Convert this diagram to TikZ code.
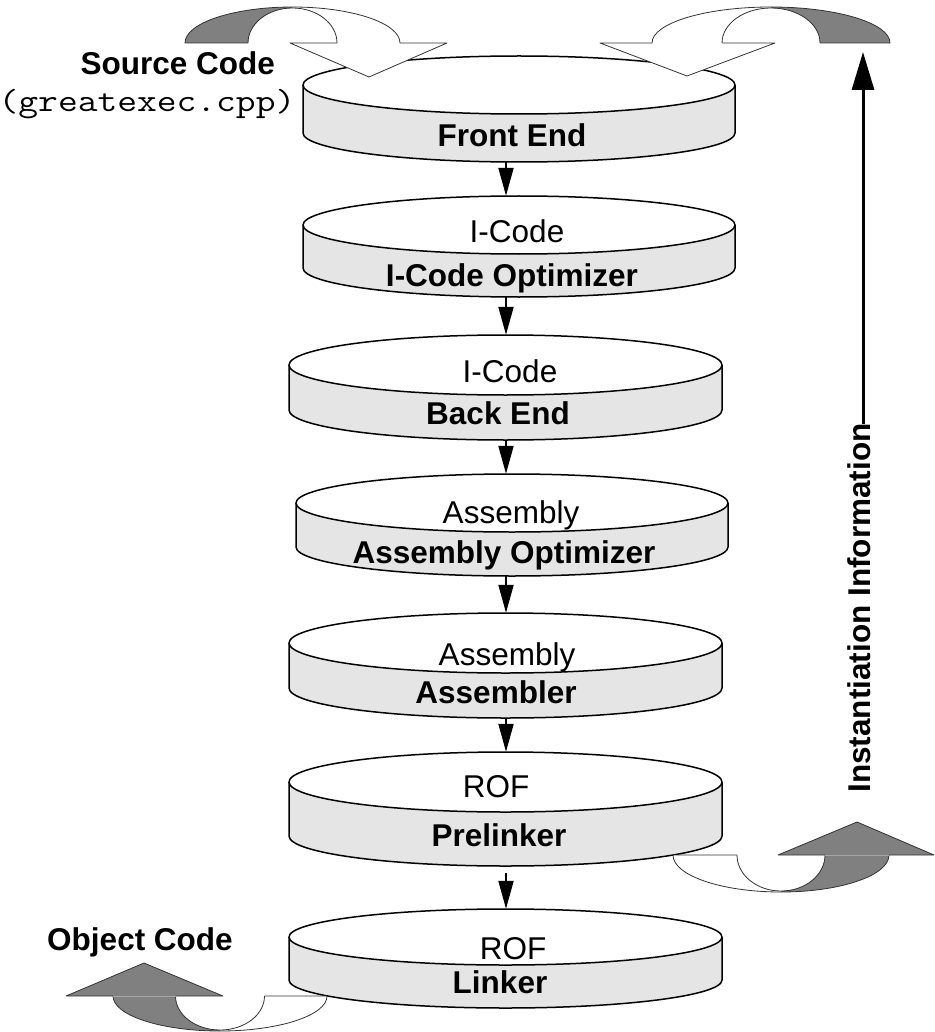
\documentclass[tikz,border=0pt]{standalone}
\usepackage{fontspec}
\setmainfont{Liberation Sans}
\setmonofont[FakeStretch=1.2]{Latin Modern Mono}
\usetikzlibrary{arrows.meta,calc}

\definecolor{diskside}{RGB}{229,229,229}
\definecolor{ribbongray}{RGB}{128,128,128}

\tikzset{
  diskline/.style={draw=black,line width=1.5pt},
  ribline/.style={draw=black!80,line width=0.8pt},
  faintline/.style={draw=black!35,line width=0.8pt},
  flow/.style={line width=2pt,-{Triangle[width=15pt,length=28pt]}},
  bigflow/.style={line width=3pt,-{Triangle[width=22pt,length=38pt]}},
  lbl/.style={font=\fontsize{31.5}{36}\selectfont,inner sep=0pt,anchor=base},
  blbl/.style={lbl,font=\fontsize{31.5}{36}\selectfont\bfseries},
  tlbl/.style={lbl,font=\fontsize{32}{36}\selectfont\ttfamily},
}

% platter: name, centre x, x radius, top centre y, bottom centre y, y radius
\newcommand\platter[6]{%
  \fill[diskside] ({#2-#3},#4) -- ({#2-#3},#5)
    arc[start angle=180,end angle=0,x radius=#3,y radius=#6]
    -- ({#2+#3},#4)
    arc[start angle=0,end angle=180,x radius=#3,y radius=#6] -- cycle;
  \draw[diskline] ({#2-#3},#4) -- ({#2-#3},#5)
    arc[start angle=180,end angle=0,x radius=#3,y radius=#6]
    -- ({#2+#3},#4);
  \draw[diskline,fill=white] (#2,#4) ellipse[x radius=#3,y radius=#6];
  \node[inner sep=0pt,minimum width={2*#3},minimum height={#5-#4+2*#6}]
    (#1) at (#2,{(#4+#5)/2}) {};
}

\begin{document}
\begin{tikzpicture}[x=1pt,y=-1pt,line join=round]
\useasboundingbox (0,0) rectangle (934,1032);

% compiler stages
\platter{d1}{519}{216}{85}{133}{29}
\platter{d2}{519}{216}{225}{268}{29}
\platter{d3}{505.5}{216.5}{365}{410}{30}
\platter{d4}{512}{216}{503}{547}{29}
\platter{d5}{505.5}{216.5}{643}{688}{30}
\platter{d6}{505.5}{216.5}{782}{836}{30}
\platter{d7}{505.5}{216.5}{937}{980}{28}

\node[blbl] (fe) at (512,147) {Front End};
\node[lbl]  (ic1) at (517,242) {I-Code};
\node[blbl] (ico) at (512,286) {I-Code Optimizer};
\node[lbl]  (ic2) at (510,382) {I-Code};
\node[blbl] (be) at (498,424) {Back End};
\node[lbl]  (as1) at (511,523) {Assembly};
\node[blbl] (aso) at (504,563) {Assembly Optimizer};
\node[lbl]  (as2) at (507,665) {Assembly};
\node[blbl] (asm) at (496,703) {Assembler};
\node[lbl]  (rof1) at (496,797) {ROF};
\node[blbl] (pl) at (499,846) {Prelinker};
\node[lbl]  (rof2) at (513,959) {ROF};
\node[blbl] (lk) at (500,993) {Linker};

% flow between stages
\coordinate (ax) at (506,0);
\draw[flow] (d1.south -| ax) -- (d2.north -| ax);
\draw[flow] (d2.south -| ax) -- (d3.north -| ax);
\draw[flow] (d3.south -| ax) -- (d4.north -| ax);
\draw[flow] (d4.south -| ax) -- (d5.north -| ax);
\draw[flow] (d5.south -| ax) -- (d6.north -| ax);
\draw[flow,shorten <=7pt] (d6.south -| ax) -- (d7.north -| ax);

% side labels
\node[blbl,anchor=base east] (src) at (275,75) {Source Code};
\node[tlbl] (cpp) at (147,112) {(greatexec.cpp)};
\node[blbl] (obj) at (140,950) {Object Code};

% instantiation feedback
\node[blbl,rotate=90] (info) at (870,608) {Instantiation Information};
\coordinate (itop) at (863,424);
\coordinate (itip) at (863,52);
\draw[bigflow] (itop) -- (itip);

% U-turn ribbon into the front end (top left)
\fill[ribbongray] (185,43) arc[start angle=180,end angle=270,x radius=107.5,y radius=36]
  -- (292.5,8) arc[start angle=270,end angle=180,x radius=44.5,y radius=35] -- cycle;
\fill[white] (292.5,7) arc[start angle=270,end angle=360,x radius=107.5,y radius=36]
  -- (337,43) arc[start angle=360,end angle=270,x radius=44.5,y radius=35] -- cycle;
\fill[white] (290,43) -- (447,43) -- (369,77) -- cycle;
\draw[ribline] (248,43) -- (185,43) arc[start angle=180,end angle=360,x radius=107.5,y radius=36];
\draw[ribline] (248,43) arc[start angle=180,end angle=360,x radius=44.5,y radius=35];
\draw[ribline] (337,43) -- (290,43) -- (369,77) -- (447,43) -- (400,43);

% U-turn ribbon into the front end (top right)
\fill[white] (652,43) arc[start angle=180,end angle=270,x radius=119,y radius=36]
  -- (771,8) arc[start angle=270,end angle=180,x radius=49,y radius=35] -- cycle;
\fill[ribbongray] (771,7) arc[start angle=270,end angle=360,x radius=119,y radius=36]
  -- (820,43) arc[start angle=360,end angle=270,x radius=49,y radius=35] -- cycle;
\fill[white] (600,43) -- (775,43) -- (687,76) -- cycle;
\draw[ribline] (652,43) arc[start angle=180,end angle=360,x radius=119,y radius=36] -- (820,43);
\draw[ribline] (722,43) arc[start angle=180,end angle=360,x radius=49,y radius=35];
\draw[ribline] (652,43) -- (600,43) -- (687,76) -- (775,43) -- (722,43);

% U-turn ribbon out of the prelinker (bottom right)
\fill[white] (673,855) arc[start angle=180,end angle=90,x radius=108,y radius=37]
  -- (781,891) arc[start angle=90,end angle=180,x radius=44,y radius=36] -- cycle;
\fill[ribbongray] (781,892) arc[start angle=90,end angle=0,x radius=108,y radius=37]
  -- (825,855) arc[start angle=0,end angle=90,x radius=44,y radius=36] -- cycle;
\fill[ribbongray] (778,855) -- (934,855) -- (857,822) -- cycle;
\draw[ribline] (737,855) -- (673,855) arc[start angle=180,end angle=0,x radius=108,y radius=37];
\draw[ribline] (737,855) arc[start angle=180,end angle=0,x radius=44,y radius=36];
\draw[ribline] (825,855) -- (778,855) -- (857,822) -- (934,855) -- (889,855);
\draw[faintline] (825,855) -- (889,855);

% U-turn ribbon out of the linker (bottom left)
\fill[ribbongray] (113,996) arc[start angle=180,end angle=90,x radius=107,y radius=35]
  -- (220,1030) arc[start angle=90,end angle=180,x radius=44.5,y radius=34] -- cycle;
\fill[white] (220,1031) arc[start angle=90,end angle=0,x radius=107,y radius=35]
  -- (264.5,996) arc[start angle=0,end angle=90,x radius=44.5,y radius=34] -- cycle;
\fill[ribbongray] (66,996) -- (223,996) -- (144,963) -- cycle;
\draw[ribline] (113,996) arc[start angle=180,end angle=0,x radius=107,y radius=35] -- (264.5,996);
\draw[ribline] (175.5,996) arc[start angle=180,end angle=0,x radius=44.5,y radius=34];
\draw[ribline] (113,996) -- (66,996) -- (144,963) -- (223,996) -- (175.5,996);
\draw[faintline] (113,996) -- (175.5,996);
\end{tikzpicture}
\end{document}
